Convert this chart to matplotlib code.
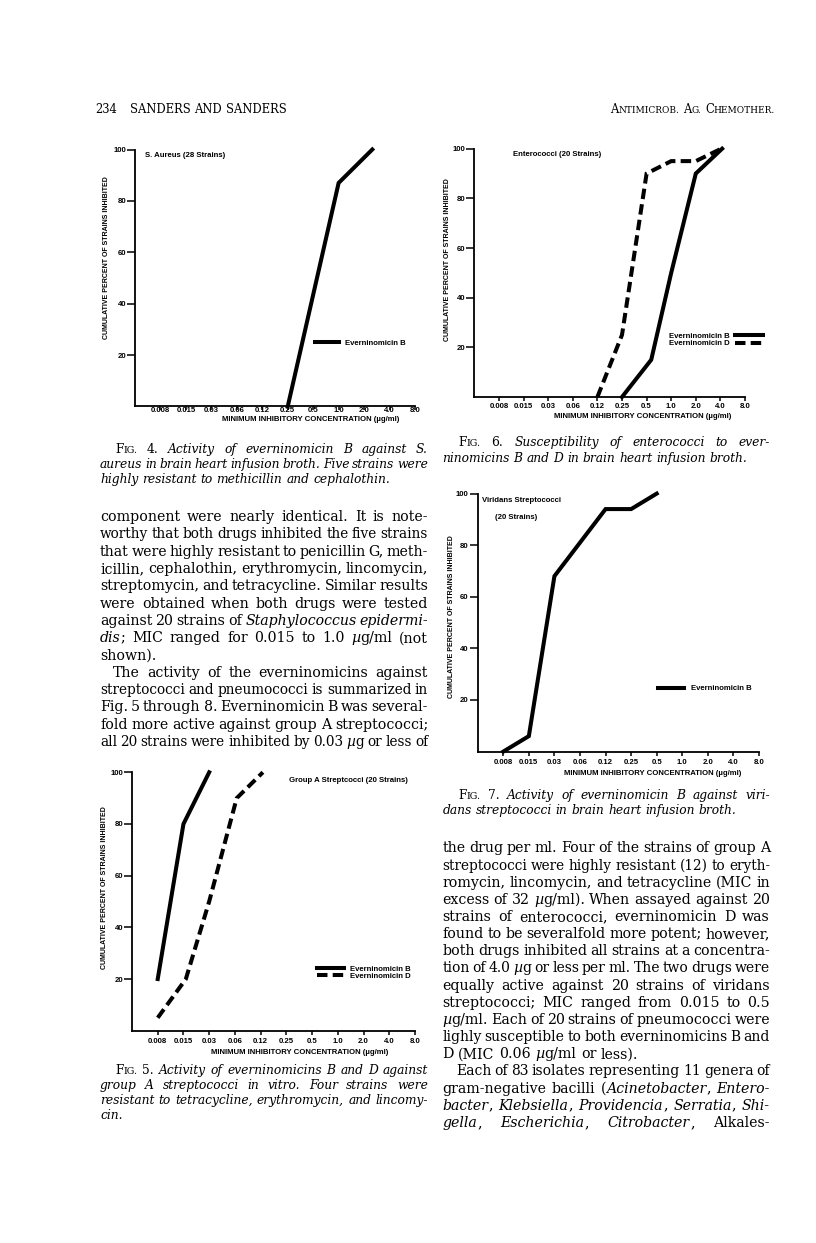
import numpy as np
import matplotlib
matplotlib.use("Agg")
import matplotlib.pyplot as plt

W, H, DPI = 816, 1243, 100

# ---------------- data ----------------
mic_labels = ['0.008', '0.015', '0.03', '0.06', '0.12', '0.25', '0.5', '1.0', '2.0', '4.0', '8.0']
mic_steps = [0.008, 0.015, 0.03, 0.06, 0.12, 0.25, 0.5, 1.0, 2.0, 4.0, 8.0]
pct_ticks = [20, 40, 60, 80, 100]
pct_tick_labels = ['20', '40', '60', '80', '100']

# Fig. 4  S. aureus
fig4_mic_b = [0.25, 1.0, 2.5]
fig4_pct_b = [0, 87, 100]
# Fig. 5  group A streptococci
fig5_mic_b = [0.008, 0.015, 0.03]
fig5_pct_b = [20, 80, 100]
fig5_mic_d = [0.008, 0.016, 0.03, 0.063, 0.128]
fig5_pct_d = [5, 20, 50, 90, 100]
# Fig. 6  enterococci
fig6_mic_b = [0.25, 0.57, 1.0, 2.0, 4.2]
fig6_pct_b = [0, 15, 50, 90, 100]
fig6_mic_d = [0.12, 0.25, 0.5, 1.0, 2.0, 4.1]
fig6_pct_d = [0, 25, 90, 95, 95, 100]
# Fig. 7  viridans streptococci
fig7_mic_b = [0.008, 0.015, 0.03, 0.12, 0.25, 0.5]
fig7_pct_b = [0, 6, 68, 94, 94, 100]

label_b = 'Everninomicin B'
label_d = 'Everninomicin D'
ylabel_text = 'CUMULATIVE PERCENT OF STRAINS INHIBITED'
xlabel_text = 'MINIMUM INHIBITORY CONCENTRATION (\u00b5g/ml)'

# ---------------- setup ----------------
SERIF = 'DejaVu Serif'
SANS = ['Liberation Sans Narrow', 'Liberation Sans', 'DejaVu Sans']

fig = plt.figure(figsize=(W / DPI, H / DPI), dpi=DPI)
fig.patch.set_facecolor('white')
renderer = fig.canvas.get_renderer()


def fx(x):
    return x / W


def fy(y):
    return 1 - y / H


def mic_pos(v):
    return np.interp(np.log2(v), np.log2(mic_steps), np.arange(len(mic_steps)))


CH_FS = 5.6
YL_FS = 5.0
XL_FS = 5.6


def make_chart(box, series, titles, leg_anchor, markerfirst=True, handlelength=3.2,
               handletextpad=0.8, ylab=None, xlab=None, xpad=1.0):
    x0, ytop, x1, ybot = box
    ax = fig.add_axes([fx(x0), fy(ybot), (x1 - x0) / W, (ybot - ytop) / H])
    ax.set_xlim(-1, 10)
    ax.set_ylim(0, 100)
    ax.patch.set_alpha(0)
    for s in ['top', 'right']:
        ax.spines[s].set_visible(False)
    for s in ['left', 'bottom']:
        ax.spines[s].set_linewidth(1.3)
    ax.set_xticks(range(len(mic_labels)))
    ax.set_xticklabels(mic_labels)
    ax.set_yticks(pct_ticks)
    ax.set_yticklabels(pct_tick_labels)
    ax.tick_params(axis='x', direction='out', length=3, width=1.1, pad=xpad, labelsize=CH_FS)
    ax.tick_params(axis='y', direction='out', length=6, width=1.1, pad=0.5, labelsize=CH_FS)
    for lab in ax.get_xticklabels() + ax.get_yticklabels():
        lab.set_fontfamily(SANS)
        lab.set_fontweight('bold')
    handles = []
    for mic, pct, lbl, dashed in series:
        ls = (0, (2.6, 1.3)) if dashed else '-'
        ln, = ax.plot(mic_pos(mic), pct, color='black', lw=2.9, ls=ls, clip_on=False,
                      solid_joinstyle='miter', dash_joinstyle='miter', label=lbl)
        handles.append(ln)
    ax.legend(handles=handles, loc='center left', bbox_to_anchor=leg_anchor,
              frameon=False, markerfirst=markerfirst, handlelength=handlelength,
              handletextpad=handletextpad, borderpad=0, borderaxespad=0, labelspacing=0.0,
              prop=dict(family=SANS, weight='bold', size=CH_FS))
    for (tx, ty, tt) in titles:
        ax.text(tx, ty, tt, transform=ax.transAxes, ha='left', va='center',
                family=SANS, weight='bold', fontsize=CH_FS)
    if ylab is not None:
        fig.text(fx(ylab[0]), fy(ylab[1]), ylabel_text, rotation=90, ha='center', va='center',
                 family=SANS, weight='bold', fontsize=YL_FS)
    if xlab is not None:
        fig.text(fx(xlab[0]), fy(xlab[1]), xlabel_text, ha='center', va='center',
                 family=SANS, weight='bold', fontsize=XL_FS)
    return ax


# Fig. 4
make_chart((135, 149.5, 415, 406.5),
           [(fig4_mic_b, fig4_pct_b, label_b, False)],
           [(0.036, 0.975, 'S. Aureus (28 Strains)')],
           (0.643, 0.247), handlelength=3.1, ylab=(106, 258), xlab=(311, 419.5), xpad=-2.9)
# Fig. 6
make_chart((474.4, 148.7, 745, 397),
           [(fig6_mic_b, fig6_pct_b, label_b, False),
            (fig6_mic_d, fig6_pct_d, label_d, True)],
           [(0.143, 0.975, 'Enterococci (20 Strains)')],
           (0.72, 0.23), markerfirst=False, handlelength=3.6, handletextpad=0.65,
           ylab=(447, 260), xlab=(643, 416.7), xpad=1.05)
# Fig. 7
make_chart((477.7, 493.6, 759, 751.6),
           [(fig7_mic_b, fig7_pct_b, label_b, False)],
           [(0.014, 0.975, 'Viridans Streptococci'), (0.061, 0.906, '(20 Strains)')],
           (0.641, 0.244), handlelength=3.4, ylab=(451.7, 617), xlab=(653, 773.3), xpad=2.5)
# Fig. 5
make_chart((132, 772.3, 415, 1030.7),
           [(fig5_mic_b, fig5_pct_b, label_b, False),
            (fig5_mic_d, fig5_pct_d, label_d, True)],
           [(0.556, 0.970, 'Group A Streptcocci (20 Strains)')],
           (0.653, 0.225), handlelength=3.5, ylab=(104, 888), xlab=(300, 1052.3), xpad=2.4)


# ---------------- page text ----------------
def parse_line(text):
    italic = False
    small = False
    words = []
    for w in text.split(' '):
        segs = []
        buf = ''
        for ch in w:
            if ch == '*':
                if buf:
                    segs.append((buf, italic, small))
                    buf = ''
                italic = not italic
            elif ch == '~':
                if buf:
                    segs.append((buf, italic, small))
                    buf = ''
                small = not small
            else:
                buf += ch
        if buf:
            segs.append((buf, italic, small))
        words.append(segs)
    return words


def build_words(words, size):
    objs, widths = [], []
    for segs in words:
        wobjs, ww = [], 0.0
        for s, it, sm in segs:
            t = fig.text(0, 0, s, fontsize=size * (0.78 if sm else 1.0), family=SERIF,
                         style='italic' if it else 'normal', va='baseline', ha='left')
            bb = t.get_window_extent(renderer=renderer)
            wobjs.append((t, bb.width))
            ww += bb.width
        objs.append(wobjs)
        widths.append(ww)
    return objs, widths


def place_line(text, x0, x1, yc, size, justify=True, align='left'):
    words = parse_line(text)
    n = len(words)
    s = size
    while True:
        objs, widths = build_words(words, s)
        total = sum(widths)
        space = 0.32 * s * DPI / 72
        if justify and n > 1:
            gap = (x1 - x0 - total) / (n - 1)
        else:
            gap = space
        if justify and n > 1 and gap < 0.6 * space and s > size * 0.85:
            for wobjs in objs:
                for t, _ in wobjs:
                    t.remove()
            s *= 0.98
            continue
        break
    line_w = total + gap * (n - 1)
    x = x0 if align == 'left' else x1 - line_w
    base = yc + 0.29 * size * DPI / 72
    for wobjs in objs:
        for t, w in wobjs:
            t.set_position((fx(x), fy(base)))
            x += w
        x += gap


def place_block(lines, x0, x1, y0, dy, size):
    for i, (txt, indent, just) in enumerate(lines):
        place_line(txt, x0 + indent, x1, y0 + i * dy, size, justify=just)


# header
place_line('234', 95, 130, 110, 8.3, justify=False)
place_line('SANDERS AND SANDERS', 130, 400, 110, 8.3, justify=False)
place_line('A~NTIMICROB.~ A~G.~ C~HEMOTHER.~', 500, 775, 110, 8.3, justify=False, align='right')

BODY = 10.2
CAP = 8.8

left_body = [
    ('component were nearly identical. It is note-', 0, True),
    ('worthy that both drugs inhibited the five strains', 0, True),
    ('that were highly resistant to penicillin G, meth-', 0, True),
    ('icillin, cephalothin, erythromycin, lincomycin,', 0, True),
    ('streptomycin, and tetracycline. Similar results', 0, True),
    ('were obtained when both drugs were tested', 0, True),
    ('against 20 strains of *Staphylococcus epidermi-*', 0, True),
    ('*dis*; MIC ranged for 0.015 to 1.0 *\u00b5*g/ml (not', 0, True),
    ('shown).', 0, False),
    ('The activity of the everninomicins against', 13, True),
    ('streptococci and pneumococci is summarized in', 0, True),
    ('Fig. 5 through 8. Everninomicin B was several-', 0, True),
    ('fold more active against group A streptococci;', 0, True),
    ('all 20 strains were inhibited by 0.03 *\u00b5*g or less of', 0, True),
]
place_block(left_body, 100, 428, 517, 17.3, BODY)

right_body = [
    ('the drug per ml. Four of the strains of group A', 0, True),
    ('streptococci were highly resistant (12) to eryth-', 0, True),
    ('romycin, lincomycin, and tetracycline (MIC in', 0, True),
    ('excess of 32 *\u00b5*g/ml). When assayed against 20', 0, True),
    ('strains of enterococci, everninomicin D was', 0, True),
    ('found to be severalfold more potent; however,', 0, True),
    ('both drugs inhibited all strains at a concentra-', 0, True),
    ('tion of 4.0 *\u00b5*g or less per ml. The two drugs were', 0, True),
    ('equally active against 20 strains of viridans', 0, True),
    ('streptococci; MIC ranged from 0.015 to 0.5', 0, True),
    ('*\u00b5*g/ml. Each of 20 strains of pneumococci were', 0, True),
    ('lighly susceptible to both everninomicins B and', 0, True),
    ('D (MIC 0.06 *\u00b5*g/ml or less).', 0, False),
    ('Each of 83 isolates representing 11 genera of', 14, True),
    ('gram-negative bacilli (*Acinetobacter*, *Entero-*', 0, True),
    ('*bacter*, *Klebsiella*, *Providencia*, *Serratia*, *Shi-*', 0, True),
    ('*gella*, *Escherichia*, *Citrobacter*, Alkales-', 0, True),
]
place_block(right_body, 442.3, 770, 848.3, 17.15, BODY)

cap4 = [
    ('F~IG.~ 4. *Activity of everninomicin B against S.*', 15, True),
    ('*aureus in brain heart infusion broth. Five strains were*', 0, True),
    ('*highly resistant to methicillin and cephalothin.*', 0, False),
]
place_block(cap4, 100, 428, 449.3, 15, CAP)

cap5 = [
    ('F~IG.~ 5. *Activity of everninomicins B and D against*', 15, True),
    ('*group A streptococci in vitro. Four strains were*', 0, True),
    ('*resistant to tetracycline, erythromycin, and lincomy-*', 0, True),
    ('*cin.*', 0, False),
]
place_block(cap5, 100, 428, 1070.7, 15, CAP)

cap6 = [
    ('F~IG.~ 6. *Susceptibility of enterococci to ever-*', 16, True),
    ('*ninomicins B and D in brain heart infusion broth.*', 0, False),
]
place_block(cap6, 442.3, 770, 442.7, 16, CAP)

cap7 = [
    ('F~IG.~ 7. *Activity of everninomicin B against viri-*', 16, True),
    ('*dans streptococci in brain heart infusion broth.*', 0, False),
]
place_block(cap7, 442.3, 770, 795, 15, CAP)

fig.savefig('out.png', dpi=DPI, facecolor='white')
